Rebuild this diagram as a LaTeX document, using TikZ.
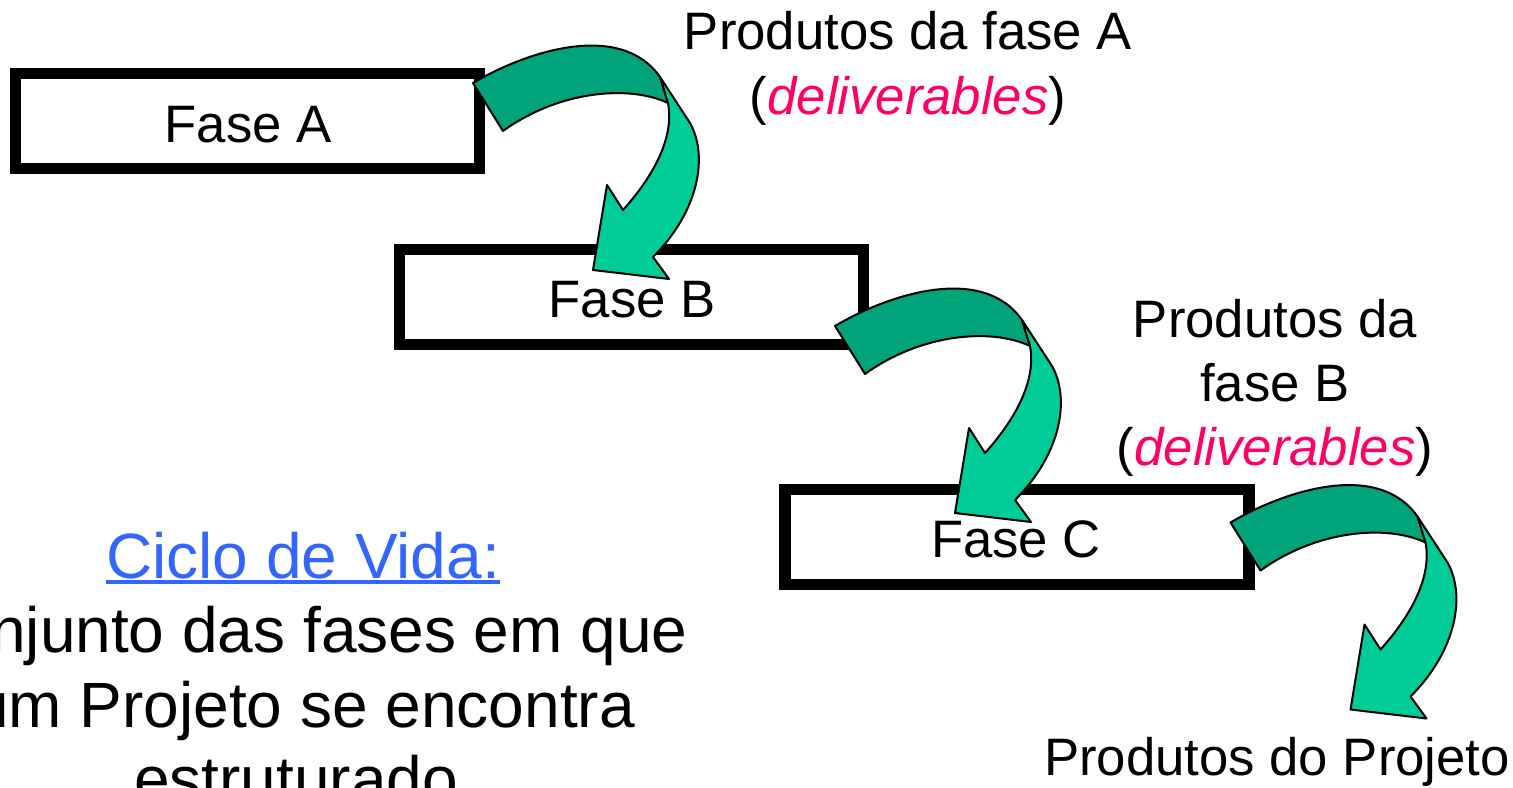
\documentclass[tikz,border=0pt]{standalone}
\usepackage{fontspec}
\setmainfont{Liberation Sans}
\definecolor{gdark}{RGB}{0,163,122}
\definecolor{glight}{RGB}{0,204,153}
\definecolor{pinkd}{RGB}{255,0,102}
\definecolor{bluec}{RGB}{51,102,255}
\newcommand\myLabelFont{\fontsize{26.35pt}{32pt}\selectfont}
\newcommand\myBigFont{\fontsize{32pt}{37pt}\selectfont}
\tikzset{
  fasebox/.style={draw=black, line width=5.6pt, minimum width=232pt, minimum height=47.5pt, inner sep=0pt},
  fasetxt/.style={anchor=base, inner sep=0pt, font=\myLabelFont},
  lbl/.style={anchor=base, inner sep=0pt, font=\myLabelFont},
  bigtxt/.style={anchor=base, inner sep=0pt, font=\myBigFont},
  band/.style={draw=black, line width=1pt, line join=round},
  curvearrow/.pic={
    \path[band, fill=gdark] (473,83) .. controls (525,52) and (620,20) .. (660,77)
      -- (668,103) .. controls (630,85) and (560,90) .. (503,131) -- cycle;
    \path[band, fill=glight] (660,77) -- (690,123) .. controls (708,155) and (700,210) .. (653,257)
      -- (669,279) -- (593,270) -- (607,185) -- (623,210)
      .. controls (650,180) and (675,140) .. (668,103) -- cycle;
  }
}
\begin{document}
\begin{tikzpicture}[x=0.5pt,y=-0.5pt]
\useasboundingbox (0,0) rectangle (1513,787);
\clip (0,0) rectangle (1513,787);
\node[fasebox] (fa) at (247.5,121) {};
\node[fasebox] (fb) at (631.5,297) {};
\node[fasebox] (fc) at (1017,537) {};
\node[fasetxt] (ta) at (248,142) {Fase A};
\node[fasetxt] (tb) at (632,317) {Fase B};
\node[fasetxt] (tc) at (1016,557) {Fase C};
\pic at (0,0) {curvearrow};
\pic at (362,243) {curvearrow};
\pic at (757.5,439.5) {curvearrow};
\node[lbl] (pa1) at (908,49) {Produtos da fase A};
\node[lbl] (pa2) at (908,114) {(\textcolor{pinkd}{\itshape deliverables})};
\node[lbl] (pb1) at (1275,337) {Produtos da};
\node[lbl] (pb2) at (1275,401) {fase B};
\node[lbl] (pb3) at (1275,465) {(\textcolor{pinkd}{\itshape deliverables})};
\node[lbl] (pp) at (1277,775) {Produtos do Projeto};
\node[bigtxt, text=bluec] (cic) at (303,578) {Ciclo de Vida:};
\draw[bluec, line width=2pt] ([yshift=-2pt]cic.base west) -- ([yshift=-2pt]cic.base east);
\node[bigtxt] (l1) at (298,652) {Conjunto das fases em que};
\node[bigtxt] (l2) at (304,727) {um Projeto se encontra};
\node[bigtxt] (l3) at (296,801) {estruturado};
\end{tikzpicture}
\end{document}
